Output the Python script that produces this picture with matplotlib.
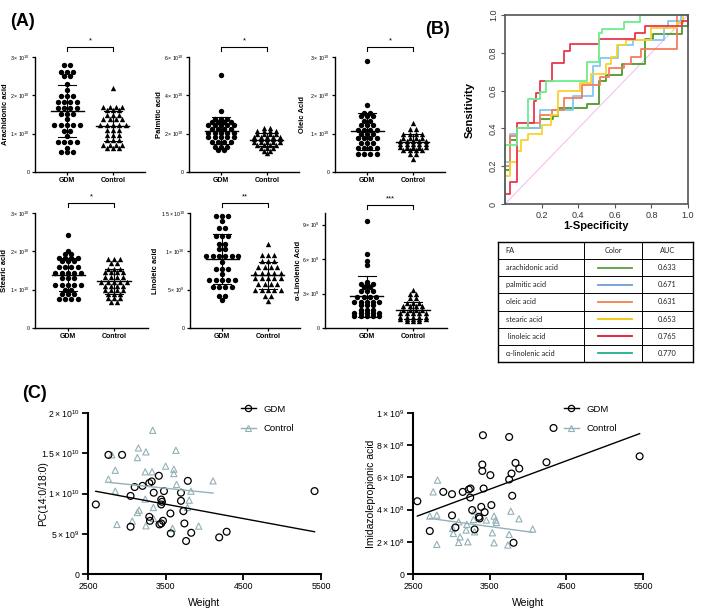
import numpy as np
import matplotlib.pyplot as plt
from matplotlib.lines import Line2D
from matplotlib.transforms import blended_transform_factory

plt.rcParams['font.family'] = ['Liberation Sans', 'DejaVu Sans']
plt.rcParams['mathtext.default'] = 'regular'

# -----------------------------
# (A) fatty acids, GDM vs Control
# each group: row values and how many dots sit on that row
# -----------------------------
arach_gdm_v = [2.80, 2.62, 2.50, 2.30, 2.15, 1.97, 1.83, 1.67, 1.52, 1.38, 1.22, 1.06, 0.93, 0.79, 0.62, 0.53]
arach_gdm_n = [2, 3, 2, 1, 1, 3, 4, 4, 3, 1, 5, 2, 1, 4, 1, 3]
arach_ctrl_v = [2.20, 1.70, 1.61, 1.48, 1.37, 1.22, 1.09, 0.96, 0.83, 0.71, 0.63]
arach_ctrl_n = [1, 4, 3, 3, 4, 5, 3, 3, 3, 4, 3]
palm_gdm_v = [5.05, 3.20, 2.78, 2.60, 2.43, 2.26, 2.05, 1.83, 1.57, 1.30, 1.13]
palm_gdm_n = [1, 1, 3, 4, 5, 4, 5, 5, 4, 3, 2]
palm_ctrl_v = [2.30, 2.15, 2.00, 1.85, 1.70, 1.55, 1.40, 1.25, 1.10, 1.00]
palm_ctrl_n = [2, 4, 4, 5, 5, 5, 4, 3, 2, 1]
oleic_gdm_v = [2.90, 1.75, 1.55, 1.45, 1.33, 1.22, 1.10, 1.00, 0.88, 0.75, 0.62, 0.48]
oleic_gdm_n = [1, 1, 2, 3, 2, 3, 4, 3, 4, 3, 4, 4]
oleic_ctrl_v = [1.28, 1.12, 1.00, 0.90, 0.80, 0.72, 0.65, 0.57, 0.48, 0.35]
oleic_ctrl_n = [1, 2, 4, 4, 5, 5, 5, 4, 2, 1]
stear_gdm_v = [2.43, 2.02, 1.92, 1.83, 1.75, 1.60, 1.43, 1.30, 1.12, 1.00, 0.90, 0.75]
stear_gdm_n = [1, 1, 2, 4, 3, 4, 5, 3, 5, 2, 3, 4]
stear_ctrl_v = [1.80, 1.70, 1.55, 1.45, 1.32, 1.20, 1.10, 0.98, 0.88, 0.78, 0.68]
stear_ctrl_n = [3, 2, 3, 4, 4, 5, 4, 4, 3, 3, 2]
lino_gdm_v = [1.46, 1.40, 1.31, 1.20, 1.10, 1.03, 0.94, 0.86, 0.77, 0.71, 0.62, 0.53, 0.42, 0.36]
lino_gdm_n = [3, 1, 2, 3, 2, 2, 6, 1, 3, 1, 5, 4, 2, 1]
lino_ctrl_v = [1.10, 0.95, 0.87, 0.80, 0.72, 0.65, 0.58, 0.50, 0.42, 0.35]
lino_ctrl_n = [1, 3, 3, 4, 5, 5, 4, 5, 2, 1]
alin_gdm_v = [9.3, 6.45, 5.8, 5.5, 4.0, 3.8, 3.6, 3.2, 2.7, 2.3, 2.0, 1.6, 1.3, 1.05]
alin_gdm_n = [1, 1, 1, 1, 1, 3, 2, 3, 4, 5, 3, 3, 5, 5]
alin_ctrl_v = [3.3, 3.0, 2.6, 2.2, 1.9, 1.6, 1.3, 1.0, 0.75, 0.6]
alin_ctrl_n = [1, 2, 2, 3, 4, 4, 5, 5, 5, 3]

# -----------------------------
# (B) ROC curves (step corners) and AUC table
# -----------------------------
fa_names = ['arachidonic acid', 'palmitic acid', 'oleic acid', 'stearic acid', ' linoleic acid', 'α-linolenic acid']
auc = ['0.633', '0.671', '0.631', '0.653', '0.765', '0.770']
roc_colors = ['#4E9A2C', '#82C8F2', '#F47C5E', '#F5D330', '#E8364F', '#6CEE8C']
table_colors = ['#5C9E3C', '#6E9ED8', '#F08252', '#F0C400', '#E0122F', '#1FB08E']
roc_x = [
    [0, 0, 0.027, 0.064, 0.19, 0.265, 0.29, 0.45, 0.516, 0.55, 0.64, 0.766, 0.81, 0.967, 1.0],
    [0, 0, 0.027, 0.064, 0.19, 0.37, 0.48, 0.52, 0.62, 0.70, 0.87, 0.89, 0.96],
    [0, 0, 0.027, 0.064, 0.128, 0.19, 0.255, 0.325, 0.42, 0.52, 0.57, 0.65, 0.69, 0.745, 0.94],
    [0, 0, 0.027, 0.064, 0.09, 0.128, 0.2, 0.25, 0.29, 0.41, 0.47, 0.55, 0.58, 0.61, 0.66, 0.8, 0.94, 0.97],
    [0, 0, 0.027, 0.064, 0.16, 0.17, 0.19, 0.255, 0.325, 0.356, 0.516, 0.708, 0.766, 0.967, 1.0],
    [0, 0, 0.064, 0.128, 0.19, 0.224, 0.45, 0.516, 0.53, 0.65, 0.74, 1.0],
]
roc_y = [
    [0, 0.18, 0.336, 0.40, 0.45, 0.466, 0.51, 0.528, 0.653, 0.685, 0.74, 0.875, 0.90, 0.94, 1.0],
    [0, 0.22, 0.37, 0.40, 0.50, 0.57, 0.73, 0.77, 0.84, 0.87, 0.93, 0.97, 1.0],
    [0, 0.20, 0.36, 0.40, 0.43, 0.47, 0.50, 0.56, 0.63, 0.67, 0.72, 0.74, 0.78, 0.82, 1.0],
    [0, 0.15, 0.22, 0.28, 0.34, 0.37, 0.42, 0.47, 0.60, 0.64, 0.69, 0.74, 0.78, 0.84, 0.87, 0.93, 0.96, 1.0],
    [0, 0.053, 0.115, 0.43, 0.546, 0.587, 0.65, 0.747, 0.81, 0.845, 0.872, 0.907, 0.94, 0.97, 1.0],
    [0, 0.31, 0.40, 0.555, 0.59, 0.653, 0.75, 0.906, 0.925, 0.965, 1.0, 1.0],
]

# -----------------------------
# (C) weight correlations
# -----------------------------
pc_gdm_w = [2601, 2763, 2939, 3048, 3101, 3048, 3202, 3289, 3298, 3289, 3320, 3346, 3412, 3421, 3443, 3443,
            3452, 3443, 3478, 3465, 3566, 3561, 3697, 3697, 3728, 3741, 3785, 3763, 3829, 4189, 4285, 5417]
pc_gdm_v = [0.864, 1.48, 1.48, 0.97, 1.08, 0.587, 1.095, 0.71, 0.66, 1.13, 1.15, 1.01, 1.22, 0.616, 0.628, 0.925,
            0.897, 0.864, 1.03, 0.661, 0.504, 0.752, 1.01, 0.909, 0.781, 0.628, 1.157, 0.41, 0.512, 0.455, 0.525, 1.03]
pc_ctrl_w = [3333, 3149, 3246, 3136, 3632, 2851, 3500, 3605, 3605, 3237, 3325, 2763, 3640, 4110, 2851, 3825,
             3237, 3803, 3158, 3136, 3342, 3781, 3070, 2873, 3246, 3342, 3588, 3925, 2807]
pc_ctrl_v = [1.785, 1.566, 1.517, 1.446, 1.537, 1.289, 1.339, 1.302, 1.248, 1.269, 1.269, 1.178, 1.112, 1.157,
             1.029, 1.029, 0.93, 0.917, 0.793, 0.764, 0.826, 0.826, 0.657, 0.616, 0.599, 0.69, 0.566, 0.595, 1.48]
imp_gdm_w = [2557, 2719, 2895, 3009, 3053, 3009, 3149, 3228, 3250, 3246, 3272, 3303, 3360, 3368, 3390, 3404,
             3404, 3412, 3421, 3434, 3522, 3509, 3754, 3754, 3785, 3794, 3811, 3837, 3886, 4241, 4333, 5456]
imp_gdm_v = [4.52, 2.67, 5.10, 4.96, 2.89, 3.64, 5.10, 5.25, 5.31, 4.75, 3.97, 2.77, 3.55, 3.45, 4.17, 6.80,
             6.40, 8.62, 5.31, 3.84, 4.28, 6.14, 8.51, 5.87, 6.24, 4.86, 1.94, 6.90, 6.55, 6.94, 9.07, 7.31]
imp_ctrl_w = [2763, 2820, 2719, 2811, 2811, 3018, 3026, 3096, 3114, 3096, 3202, 3193, 3215, 3290, 3303, 3303,
              3456, 3535, 3557, 3579, 3588, 3557, 3776, 3754, 3737, 3882, 4061]
imp_ctrl_v = [5.10, 5.83, 3.60, 3.66, 1.84, 2.83, 2.52, 3.24, 2.31, 1.96, 3.08, 2.73, 2.00, 3.39, 3.90, 2.62,
              3.35, 2.56, 3.60, 3.35, 3.20, 1.94, 3.90, 2.46, 1.80, 3.43, 2.79]

W, H = 709, 610
fig = plt.figure(figsize=(W / 100, H / 100), dpi=100)


def add_ax(l, t, r, b):
    return fig.add_axes([l / W, 1 - b / H, (r - l) / W, (b - t) / H])


def row_dots(row_vals, row_n, px_unit, gap=6.3):
    # dots on one row are spread sideways, GraphPad style
    ys, xs = [], []
    for v, n in zip(row_vals, row_n):
        ys += [v] * n
        xs += list((np.arange(n) - (n - 1) / 2) * gap / px_unit)
    return np.array(xs), np.array(ys)


def dot_panel(box, gdm, ctrl, ymax, ticks, labels, ylabel, stars, xlim, lab_x, br=1.09):
    ax = add_ax(*box)
    px_unit = (box[2] - box[0]) / (xlim[1] - xlim[0])
    for i, (grp, mk) in enumerate([(gdm, 'o'), (ctrl, '^')]):
        xs, vals = row_dots(grp[0], grp[1], px_unit)
        ax.scatter(i + xs, vals, marker=mk, s=15, c='black', lw=0, zorder=3, clip_on=False)
        m, sd = vals.mean(), vals.std(ddof=1)
        ax.plot([i - 0.36, i + 0.36], [m, m], color='black', lw=1.0, zorder=4)
        for y in (m - sd, m + sd):
            ax.plot([i - 0.2, i + 0.2], [y, y], color='black', lw=0.8, zorder=4)
        ax.plot([i, i], [m - sd, m + sd], color='black', lw=0.8, zorder=4)
    ax.set_xlim(*xlim)
    ax.set_ylim(0, ymax)
    ax.set_xticks([0, 1])
    ax.set_xticklabels(['GDM', 'Control'], fontsize=5, fontweight='bold')
    ax.set_yticks(ticks)
    ax.set_yticklabels(labels, fontsize=3.8)
    for s in ('top', 'right'):
        ax.spines[s].set_visible(False)
    for s in ('left', 'bottom'):
        ax.spines[s].set_linewidth(1.0)
    ax.tick_params(length=2.5, width=0.9, pad=1.2)
    ax.set_ylabel(ylabel, fontsize=5.5, fontweight='bold')
    ax.yaxis.set_label_coords(lab_x, 0.5)
    tr = blended_transform_factory(ax.transData, ax.transAxes)
    ax.plot([0, 0, 1, 1], [br - 0.035, br, br, br - 0.035], transform=tr, color='black', lw=0.8, clip_on=False)
    ax.text(0.5, br + 0.02, stars, transform=tr, ha='center', va='bottom', fontsize=5.5)
    return ax


t10 = ['0', r'$1\times10^{10}$', r'$2\times10^{10}$', r'$3\times10^{10}$']
dot_panel((35, 57, 145, 172), (arach_gdm_v, arach_gdm_n), (arach_ctrl_v, arach_ctrl_n), 3, [0, 1, 2, 3], t10,
          'Arachidonic acid', '*', (-0.7, 1.7), -0.24)
dot_panel((189, 57, 299, 172), (palm_gdm_v, palm_gdm_n), (palm_ctrl_v, palm_ctrl_n), 6, [0, 2, 4, 6],
          ['0', r'$2\times10^{10}$', r'$4\times10^{10}$', r'$6\times10^{10}$'], 'Palmitic acid', '*',
          (-0.7, 1.7), -0.24)
dot_panel((335, 57, 445, 172), (oleic_gdm_v, oleic_gdm_n), (oleic_ctrl_v, oleic_ctrl_n), 3, [0, 1, 2, 3], t10,
          'Oleic Acid', '*', (-0.7, 1.7), -0.26)
dot_panel((35, 213, 148, 328), (stear_gdm_v, stear_gdm_n), (stear_ctrl_v, stear_ctrl_n), 3, [0, 1, 2, 3], t10,
          'Stearic acid', '*', (-0.72, 1.74), -0.235)
dot_panel((190, 213, 300, 328), (lino_gdm_v, lino_gdm_n), (lino_ctrl_v, lino_ctrl_n), 1.5, [0, 0.5, 1.0, 1.5],
          ['0', r'$5\times10^{9}$', r'$1\times10^{10}$', r'$1.5\times10^{10}$'], 'Linoleic acid', '**',
          (-0.7, 1.7), -0.28)
dot_panel((325, 213, 447, 328), (alin_gdm_v, alin_gdm_n), (alin_ctrl_v, alin_ctrl_n), 10, [0, 3, 6, 9],
          ['0', r'$3\times10^{9}$', r'$6\times10^{9}$', r'$9\times10^{9}$'], 'α-Linolenic Acid', '***',
          (-0.91, 1.74), -0.19, br=1.07)

# -----------------------------
# (B) ROC
# -----------------------------
ax = add_ax(505, 15, 688, 204)
ax.plot([0, 1], [0, 1], color='#F6B8F2', lw=0.7)
for xs, ys, c in zip(roc_x, roc_y, roc_colors):
    ax.plot(xs, ys, drawstyle='steps-post', color=c, lw=1.3, clip_on=False)
ax.set_xlim(0, 1)
ax.set_ylim(0, 1)
ax.set_xticks([0.2, 0.4, 0.6, 0.8, 1.0])
ax.set_xticklabels(['0.2', '0.4', '0.6', '0.8', '1.0'], fontsize=6.5, color='#333333')
ax.set_yticks([0, 0.2, 0.4, 0.6, 0.8, 1.0])
ax.set_yticklabels(['0', '0.2', '0.4', '0.6', '0.8', '1.0'], fontsize=6.5, color='#333333', rotation=90,
                   va='center')
ax.tick_params(length=3, width=0.8, color='#555555', pad=2)
for s in ax.spines.values():
    s.set_color('#555555')
    s.set_linewidth(1.2)
ax.set_xlabel('1-Specificity', fontsize=8, fontweight='bold', labelpad=1)
ax.set_ylabel('Sensitivity', fontsize=8, fontweight='bold', labelpad=10)

# AUC table
ax = add_ax(498, 242, 693, 362)
ax.set_xlim(0, 1)
ax.set_ylim(7, 0)
ax.axis('off')
cols = [0, 0.441, 0.738, 1]
for r in range(8):
    ax.plot([0, 1], [r, r], color='black', lw=1.0 if r in (0, 7) else 0.7, clip_on=False)
for c in cols:
    ax.plot([c, c], [0, 7], color='black', lw=1.0 if c in (0, 1) else 0.7, clip_on=False)
tfont = dict(fontsize=5.3, color='#222222', family=['Lato', 'DejaVu Sans'], va='center')
ax.text(0.04, 0.5, 'FA', ha='left', **tfont)
ax.text(0.59, 0.5, 'Color', ha='center', **tfont)
ax.text(0.869, 0.5, 'AUC', ha='center', **tfont)
for i, (name, a, c) in enumerate(zip(fa_names, auc, table_colors)):
    y = i + 1.5
    ax.text(0.04, y, name, ha='left', **tfont)
    ax.plot([0.513, 0.687], [y, y], color=c, lw=1.3)
    ax.text(0.869, y, a, ha='center', **tfont)

# -----------------------------
# (C) scatter + regression
# -----------------------------
ctrl_col = '#93B1B8'


def scatter_panel(box, gw, gv, cw, cv, ymax, ticks, labels, ylabel, lab_x, leg_xy):
    ax = add_ax(*box)
    ax.scatter(gw, gv, marker='o', s=24, facecolors='none', edgecolors='black', lw=0.9, zorder=3, clip_on=False)
    ax.scatter(cw, cv, marker='^', s=20, facecolors='none', edgecolors=ctrl_col, lw=0.8, zorder=2,
               clip_on=False)
    for w, v, c in ((cw, cv, ctrl_col), (gw, gv, 'black')):
        k, b = np.polyfit(w, v, 1)
        xx = np.array([min(w), max(w)])
        ax.plot(xx, k * xx + b, color=c, lw=1.0, zorder=4)
    ax.set_xlim(2500, 5500)
    ax.set_ylim(0, ymax)
    ax.set_xticks([2500, 3500, 4500, 5500])
    ax.set_yticks(ticks)
    ax.set_yticklabels(labels)
    ax.tick_params(labelsize=6.3, length=4, width=1.3, pad=2)
    for s in ('top', 'right'):
        ax.spines[s].set_visible(False)
    for s in ('left', 'bottom'):
        ax.spines[s].set_linewidth(1.5)
    ax.set_xlabel('Weight', fontsize=7.5, labelpad=5)
    ax.set_ylabel(ylabel, fontsize=7.5)
    ax.yaxis.set_label_coords(lab_x, 0.5)
    handles = [Line2D([], [], color='black', marker='o', mfc='none', ms=4.5, lw=1, mew=0.9),
               Line2D([], [], color=ctrl_col, marker='^', mfc='none', ms=4.5, lw=1, mew=0.8)]
    ax.legend(handles, ['GDM', 'Control'], loc='upper left', bbox_to_anchor=(leg_xy[0] / W, 1 - leg_xy[1] / H),
              bbox_transform=fig.transFigure, frameon=False, fontsize=6.8, handlelength=1.6,
              handletextpad=0.8, labelspacing=1.1, borderpad=0)
    return ax


scatter_panel((88, 413, 321, 574), pc_gdm_w, pc_gdm_v, pc_ctrl_w, pc_ctrl_v, 2.0, [0, 0.5, 1.0, 1.5, 2.0],
              ['0', r'$5\times10^{9}$', r'$1\times10^{10}$', r'$1.5\times10^{10}$', r'$2\times10^{10}$'],
              'PC(14:0/18:0)', -0.17, (236, 400))
scatter_panel((413, 413, 643, 574), imp_gdm_w, imp_gdm_v, imp_ctrl_w, imp_ctrl_v, 10, [0, 2, 4, 6, 8, 10],
              ['0', r'$2\times10^{8}$', r'$4\times10^{8}$', r'$6\times10^{8}$', r'$8\times10^{8}$',
               r'$1\times10^{9}$'],
              'Imidazolepropionic acid', -0.16, (559, 400))

# panel letters
fig.text(10 / W, 1 - 22 / H, '(A)', fontsize=13, fontweight='bold', va='center')
fig.text(425 / W, 1 - 29 / H, '(B)', fontsize=13, fontweight='bold', va='center')
fig.text(22 / W, 1 - 394 / H, '(C)', fontsize=13, fontweight='bold', va='center')

fig.savefig('out.png', dpi=100)
